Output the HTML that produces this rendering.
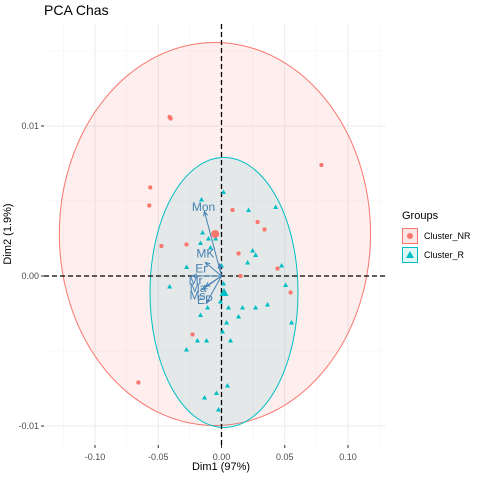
<!DOCTYPE html>
<html><head><meta charset="utf-8"><style>
body{margin:0;background:#fff;font-family:"Liberation Sans",sans-serif}
</style></head><body>
<svg id="c" width="480" height="480" xmlns="http://www.w3.org/2000/svg" font-family="Liberation Sans, sans-serif"></svg>
<script>
const xTicks=[-0.10,-0.05,0.00,0.05,0.10];
const xTickLabels=["-0.10","-0.05","0.00","0.05","0.10"];
const yTicks=[0.01,0.00,-0.01];
const yTickLabels=["0.01","0.00","-0.01"];
// red cluster points [dim1, dim2]
const redX=[-0.0410,-0.0402,-0.0563,-0.0571,0.0790,0.0087,0.0285,0.0340,-0.0475,-0.0277,0.0135,0.0443,0.0150,0.0546,-0.0229,-0.0657];
const redY=[0.0106,0.0105,0.0059,0.0047,0.0074,0.0044,0.0036,0.0031,0.0020,0.0021,0.0015,0.0005,0.0000,-0.0011,-0.0039,-0.0071];
const tealX=[-0.0158,0.0016,0.0214,0.0428,-0.0150,-0.0166,-0.0103,-0.0047,-0.0087,0.0246,0.0270,0.0206,0.0475,0.0000,-0.0276,-0.0410,0.0507,0.0016,0.0024,-0.0008,0.0055,0.0166,0.0270,0.0364,-0.0110,-0.0166,0.0135,0.0554,0.0040,0.0008,-0.0190,-0.0118,0.0071,-0.0277,0.0047,-0.0040,-0.0134,-0.0024];
const tealY=[0.0051,0.0056,0.0044,0.0046,0.0029,0.0022,0.0025,0.0025,0.0019,0.0017,0.0014,0.0009,0.0007,0.0007,0.0006,-0.0007,-0.0006,-0.0005,-0.0011,-0.0017,-0.0021,-0.0021,-0.0021,-0.0019,-0.0021,-0.0026,-0.0027,-0.0031,-0.0031,-0.0037,-0.0043,-0.0043,-0.0043,-0.0049,-0.0073,-0.0078,-0.0081,-0.0089];
const centroidRed=[-0.0050,0.0028];
const centroidTeal=[0.0020,-0.0011];
// variable arrows
const varNames=["Mon","MK","Er","Mr","Ma","Ms","EP"];
const varX=[-0.0135,-0.0016,-0.0127,-0.0230,-0.0150,-0.0127,-0.0119];
const varY=[0.0043,0.0008,0.0009,0.0000,-0.0009,-0.0007,-0.0018];
const labX=[-0.0142,-0.0127,-0.0160,-0.0205,-0.0185,-0.0190,-0.0130];
const labY=[0.0046,0.0015,0.0005,-0.0003,-0.0008,-0.0013,-0.0016];
// ellipses [cx, cy, rx, ry] in data units
const ellRed=[-0.0052,0.0028,0.1230,0.01277];
const ellTeal=[0.0020,-0.0011,0.0585,0.0090];

const L=44,R=386,T=24,B=445;
const X=v=>221.5+v*1265;
const Y=v=>276-v*15000;
const svg=document.getElementById('c');
const NS="http://www.w3.org/2000/svg";
function mk(tag,a,parent){const e=document.createElementNS(NS,tag);for(const k in a)e.setAttribute(k,a[k]);(parent||svg).appendChild(e);return e;}

const grid=mk('g',{});


for(let i=0;i<xTicks.length;i++){
  mk('line',{x1:X(xTicks[i]),x2:X(xTicks[i]),y1:T,y2:B,stroke:'#ebebeb','stroke-width':1},grid);
  const m=xTicks[i]+0.025;
  mk('line',{x1:X(m),x2:X(m),y1:T,y2:B,stroke:'#f4f4f4','stroke-width':0.6},grid);
}
mk('line',{x1:X(-0.125),x2:X(-0.125),y1:T,y2:B,stroke:'#f4f4f4','stroke-width':0.6},grid);
for(let i=0;i<yTicks.length;i++){
  mk('line',{x1:L,x2:R,y1:Y(yTicks[i]),y2:Y(yTicks[i]),stroke:'#ebebeb','stroke-width':1},grid);
  const m=yTicks[i]-0.005;
  mk('line',{x1:L,x2:R,y1:Y(m),y2:Y(m),stroke:'#f4f4f4','stroke-width':0.6},grid);
}
mk('line',{x1:L,x2:R,y1:Y(0.015),y2:Y(0.015),stroke:'#f4f4f4','stroke-width':0.6},grid);

const e1=mk('ellipse',{cx:X(ellRed[0]),cy:Y(ellRed[1]),rx:ellRed[2]*1265,ry:ellRed[3]*15000,fill:'rgba(248,118,109,0.12)',stroke:'#F8766D','stroke-width':1});


const e2=mk('ellipse',{cx:X(ellTeal[0]),cy:Y(ellTeal[1]),rx:ellTeal[2]*1265,ry:ellTeal[3]*15000,fill:'rgba(0,191,196,0.10)',stroke:'#00BFC4','stroke-width':1});



mk('line',{x1:L,x2:R,y1:Y(0),y2:Y(0),stroke:'#000','stroke-width':1.3,'stroke-dasharray':'5,3'});
mk('line',{x1:X(0),x2:X(0),y1:T,y2:B,stroke:'#000','stroke-width':1.3,'stroke-dasharray':'5,3'});

for(let i=0;i<redX.length;i++){
  const c=mk('rect',{x:X(redX[i])-2,y:Y(redY[i])-2,width:4,height:4,rx:1.5,fill:'#F8766D'});
  
  
}
for(let i=0;i<tealX.length;i++){
  const x=X(tealX[i]),y=Y(tealY[i]);
  const p=mk('polygon',{points:`${x-2.5},${y+2} ${x+2.5},${y+2} ${x},${y-2.5}`,fill:'#00BFC4'});
  
  
}
const cr=mk('circle',{cx:X(centroidRed[0]),cy:Y(centroidRed[1]),r:4,fill:'#F8766D'});


{const x=X(centroidTeal[0]),y=Y(centroidTeal[1]);
const ct=mk('polygon',{points:`${x-4.5},${y+3.5} ${x+4.5},${y+3.5} ${x},${y-4.5}`,fill:'#00BFC4'});

}

for(let i=0;i<varNames.length;i++){
  const x1=X(0),y1=Y(0),x2=X(varX[i]),y2=Y(varY[i]);
  const g=mk('g',{});
  
  
  mk('line',{x1,y1,x2,y2,stroke:'#4682B4','stroke-width':1},g);
  const a=Math.atan2(y2-y1,x2-x1),h=5;
  mk('polyline',{points:`${x2-h*Math.cos(a-0.45)},${y2-h*Math.sin(a-0.45)} ${x2},${y2} ${x2-h*Math.cos(a+0.45)},${y2-h*Math.sin(a+0.45)}`,fill:'none',stroke:'#4682B4','stroke-width':1},g);
  const t=mk('text',{x:X(labX[i]),y:Y(labY[i])+4,'font-size':12,fill:'#4682B4','text-anchor':'middle'},g);
  t.textContent=varNames[i];
}

for(let i=0;i<xTicks.length;i++){
  mk('line',{x1:X(xTicks[i]),x2:X(xTicks[i]),y1:B,y2:B+3,stroke:'#333'});
  const t=mk('text',{x:X(xTicks[i]),y:B+15,'font-size':9,fill:'#4d4d4d','text-anchor':'middle'});
  
  
  t.textContent=xTickLabels[i];
}
for(let i=0;i<yTicks.length;i++){
  mk('line',{x1:L-3,x2:L,y1:Y(yTicks[i]),y2:Y(yTicks[i]),stroke:'#333'});
  const t=mk('text',{x:L-5,y:Y(yTicks[i])+3,'font-size':9,fill:'#4d4d4d','text-anchor':'end'});
  
  
  t.textContent=yTickLabels[i];
}
</script>
<div style="position:absolute;left:0;top:0;width:480px;height:480px;pointer-events:none">
<div style="position:absolute;left:44px;top:2px;font-size:14px;color:#000">PCA Chas</div>
<div style="position:absolute;left:121px;width:200px;text-align:center;top:461px;font-size:11px">Dim1 (97%)</div>
<div style="position:absolute;left:-42px;top:228px;width:100px;text-align:center;font-size:11px;transform:rotate(-90deg)">Dim2 (1.9%)</div>
<div style="position:absolute;left:402px;top:210px;font-size:11px">
<div style="margin-bottom:4px">Groups</div>
<div style="display:flex;align-items:center;height:19px;font-size:9px"><span style="width:14px;height:14px;border:1px solid #F8766D;background:#fde7e6;display:inline-flex;align-items:center;justify-content:center;margin-right:6px"><span style="width:6px;height:6px;border-radius:50%;background:#F8766D"></span></span>Cluster_NR</div>
<div style="display:flex;align-items:center;height:19px;font-size:9px"><span style="width:14px;height:14px;border:1px solid #00BFC4;background:#e0f6f6;display:inline-flex;align-items:center;justify-content:center;margin-right:6px"><span style="width:0;height:0;border-left:4px solid transparent;border-right:4px solid transparent;border-bottom:7px solid #00BFC4"></span></span>Cluster_R</div>
</div>
</div>
</body></html>
